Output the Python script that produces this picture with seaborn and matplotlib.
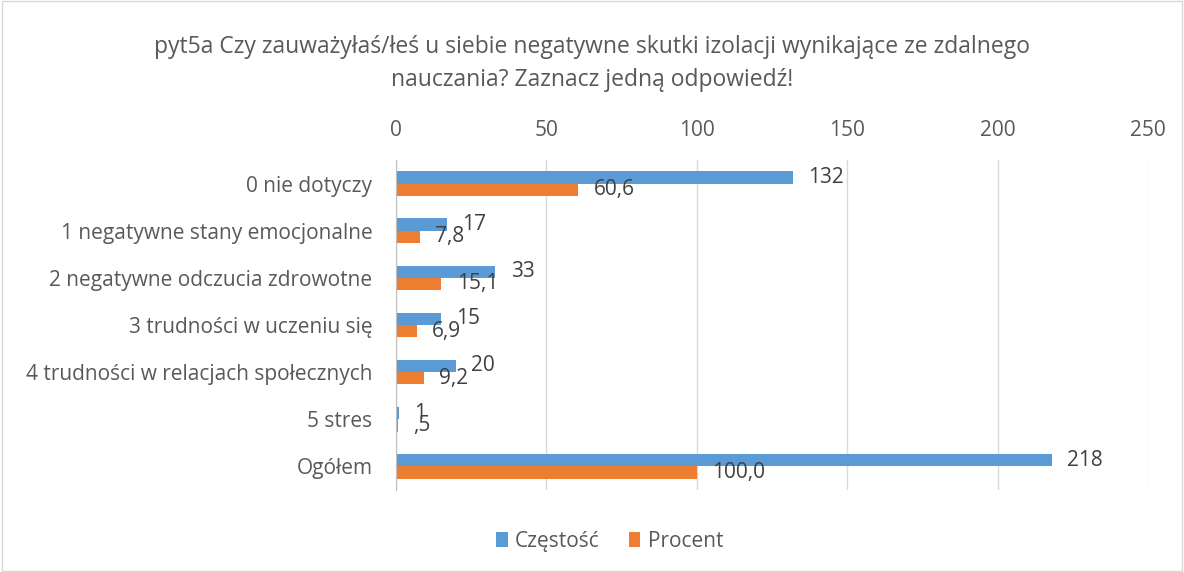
import pandas as pd
import matplotlib.pyplot as plt
import seaborn as sns
from matplotlib.patches import Rectangle

# dane z wykresu
kategorie = ['0 nie dotyczy', '1 negatywne stany emocjonalne', '2 negatywne odczucia zdrowotne',
             '3 trudności w uczeniu się', '4 trudności w relacjach społecznych', '5 stres', 'Ogółem']
czestosc = [132, 17, 33, 15, 20, 1, 218]
procent = [60.6, 7.8, 15.1, 6.9, 9.2, 0.5, 100.0]
etykiety_czestosc = ['132', '17', '33', '15', '20', '1', '218']
etykiety_procent = ['60,6', '7,8', '15,1', '6,9', '9,2', ',5', '100,0']
serie = ['Częstość', 'Procent']
kolory = ['#5B9BD5', '#ED7D31']
xticks = [0, 50, 100, 150, 200, 250]

tytul = ('pyt5a Czy zauważyłaś/łeś u siebie negatywne skutki izolacji wynikające ze zdalnego\n'
         'nauczania? Zaznacz jedną odpowiedź!')

df = pd.DataFrame({
    'kategoria': kategorie * 2,
    'wartosc': czestosc + procent,
    'seria': [serie[0]] * len(kategorie) + [serie[1]] * len(kategorie),
})

sns.set_style('white')
plt.rcParams['font.family'] = ['Open Sans', 'DejaVu Sans']
txt = '#595959'
fs = 15

fig = plt.figure(figsize=(11.84, 5.72), dpi=100)
ax = fig.add_axes([0.3345, 0.1434, 0.6351, 0.5769])

sns.barplot(data=df, y='kategoria', x='wartosc', hue='seria', orient='h',
            palette=kolory, width=0.52, ax=ax, saturation=1, legend=True, linewidth=0)

for cont, lab in zip(ax.containers, [etykiety_czestosc, etykiety_procent]):
    ax.bar_label(cont, labels=lab, padding=11, fontsize=fs, color='#404040')

ax.set_xlim(0, 250)
ax.set_xticks(xticks)
ax.xaxis.tick_top()
ax.tick_params(axis='x', length=0, labelsize=fs, labelcolor=txt, pad=14)
ax.grid(axis='x', color='#d9d9d9', linewidth=1)
ax.set_axisbelow(True)

ax.set_ylim(len(kategorie) - 0.5, -0.5)
ax.set_yticks(range(len(kategorie)))
ax.set_yticklabels(kategorie)
ax.tick_params(axis='y', length=0, labelsize=fs, labelcolor=txt, pad=17)
ax.set_yticks([i - 0.5 for i in range(len(kategorie) + 1)], minor=True)
ax.tick_params(axis='y', which='minor', length=6, color='#bfbfbf', width=1)
ax.set_xlabel('')
ax.set_ylabel('')

for s in ['top', 'right', 'bottom']:
    ax.spines[s].set_visible(False)
ax.spines['left'].set_color('#bfbfbf')

ax.legend(loc='center', bbox_to_anchor=(0.284, -0.155), ncol=2, frameon=False,
          fontsize=fs, labelcolor=txt, handlelength=0.55, handleheight=0.75,
          handletextpad=0.35, columnspacing=1.4)

fig.text(0.5, 0.889, tytul, ha='center', va='center', fontsize=16.5, color=txt, linespacing=1.45)

fig.patches.append(Rectangle((0.002, 0.002), 0.996, 0.996, transform=fig.transFigure,
                             fill=False, edgecolor='#d9d9d9', linewidth=1))

plt.savefig('out.png', dpi=100)
plt.close()
